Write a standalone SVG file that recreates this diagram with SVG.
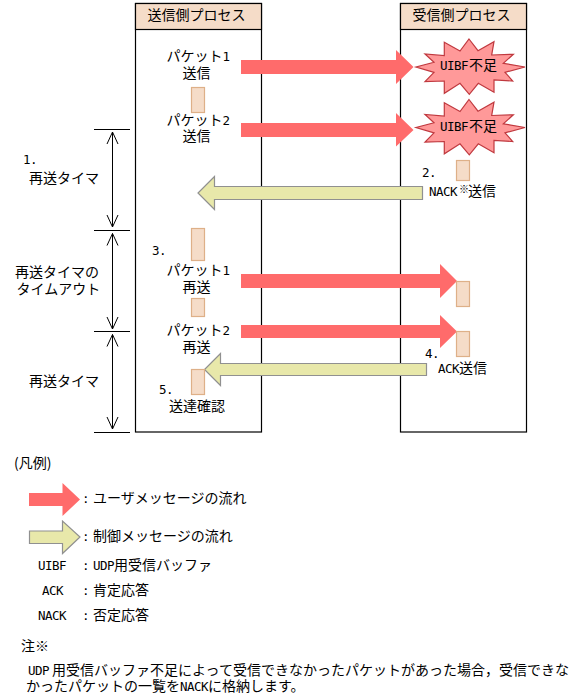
<svg xmlns="http://www.w3.org/2000/svg" width="587" height="700" viewBox="0 0 587 700">
<style>
text{font-family:"Noto Sans CJK JP","Noto Sans CJK SC",sans-serif;font-size:14px;fill:#000}
.l{font-family:"DejaVu Sans Mono","Liberation Mono",monospace;font-size:12.5px}
.box{fill:#fff;stroke:#000;stroke-width:1.2}
.hd{fill:#f5dcc8;stroke:#000;stroke-width:1.2}
.pk{fill:#f5dcc8;stroke:#deb088;stroke-width:1.2}
.red{fill:#ff6b6b}
.yel{fill:#e8e8aa;stroke:#909090;stroke-width:1.2}
.star{fill:#ff9999;stroke:#c0393f;stroke-width:1.2}
.tl{stroke:#000;stroke-width:1;fill:none}
.sup{font-size:10px}
</style>
<defs>
<marker id="open" viewBox="-7 -7 14 14" refX="0" refY="0" markerWidth="14" markerHeight="14" markerUnits="userSpaceOnUse" orient="auto-start-reverse" overflow="visible"><path d="M-12 -5.5L0 0L-12 5.5" fill="none" stroke="#000" stroke-width="1"/></marker>
<polygon id="burst" points="469,39 478,50.7 494,41.7 491.7,55 513.3,54.3 503.3,63.3 525,67 505,72.3 512.7,81 494,80 494,92.3 478.3,83.3 469.3,94.3 460,83.3 444.3,93.3 444.3,81 425,81.7 434,72.3 416,67 434,62.3 425,54 444.3,55.7 444.3,42.3 460,51"/>
</defs>
<g id="sender">
<rect class="box" x="135.5" y="3.5" width="126" height="428.5"/>
<rect class="hd" x="135.5" y="3.5" width="126" height="26"/>
<text x="147.5" y="20">送信側プロセス</text>
</g>
<g id="receiver">
<rect class="box" x="400.5" y="3.5" width="126" height="428.5"/>
<rect class="hd" x="400.5" y="3.5" width="126" height="26"/>
<text x="412.5" y="20">受信側プロセス</text>
</g>
<g id="burst1">
<use href="#burst" class="star"/>
<text x="440 447 454 461 469 483" y="69.5"><tspan class="l">UIBF</tspan>不足</text>
</g>
<g id="burst2">
<use href="#burst" class="star" y="60.5"/>
<text x="440 447 454 461 469 483" y="130.5"><tspan class="l">UIBF</tspan>不足</text>
</g>
<g id="connectors">
<polygon class="red" points="241,60 396,60 396,50 413.5,67 396,84 396,74 241,74"/>
<polygon class="red" points="241,123 396,123 396,113 413.5,130 396,146.5 396,137 241,137"/>
<polygon class="yel" points="422.5,186.5 214.5,186.5 214.5,176.5 198,193 214.5,209.5 214.5,199.5 422.5,199.5"/>
<polygon class="red" points="241,274 440,274 440,264 457,281 440,298 440,288 241,288"/>
<polygon class="red" points="241,325 440,325 440,315 457,331.5 440,348 440,338 241,338"/>
<polygon class="yel" points="426.5,363.5 220.5,363.5 220.5,353.5 204.5,369.5 220.5,385.5 220.5,375.5 426.5,375.5"/>
<path class="tl" d="M94 129.5H130M94 230.5H130M94 331.5H130M94 432.5H130"/>
<path class="tl" d="M112.5 132V227" marker-start="url(#open)" marker-end="url(#open)"/>
<path class="tl" d="M112.5 233.5V329" marker-start="url(#open)" marker-end="url(#open)"/>
<path class="tl" d="M112.5 334.5V429" marker-start="url(#open)" marker-end="url(#open)"/>
</g>
<g id="packet-s1"><rect class="pk" x="191.5" y="87.5" width="13" height="25"/></g>
<g id="packet-r1"><rect class="pk" x="456.5" y="160.5" width="13" height="20"/></g>
<g id="packet-s2"><rect class="pk" x="191.5" y="228.5" width="13" height="32"/></g>
<g id="packet-s3"><rect class="pk" x="191.5" y="298.5" width="13" height="18"/></g>
<g id="packet-s4"><rect class="pk" x="191.5" y="369.5" width="13" height="25"/></g>
<g id="packet-r2"><rect class="pk" x="456.5" y="281.5" width="13" height="25"/></g>
<g id="packet-r3"><rect class="pk" x="456.5" y="331.5" width="13" height="25"/></g>
<g id="labels">
<text x="166.5" y="60.5">パケット<tspan class="l">1</tspan></text>
<text x="182.5" y="78">送信</text>
<text x="166.5" y="124.5">パケット<tspan class="l">2</tspan></text>
<text x="182.5" y="141">送信</text>
<text x="23 30" y="164"><tspan class="l">1.</tspan></text>
<text x="29" y="183">再送タイマ</text>
<text x="422 429" y="177"><tspan class="l">2.</tspan></text>
<text x="429 436 443 450 459 468 482" y="196"><tspan class="l">NACK</tspan><tspan class="sup" dy="-3">※</tspan><tspan dy="3">送信</tspan></text>
<text x="152 159" y="254.5"><tspan class="l">3.</tspan></text>
<text x="166.5" y="275">パケット<tspan class="l">1</tspan></text>
<text x="182.5" y="292">再送</text>
<text x="15" y="277">再送タイマの</text>
<text x="16.5" y="294">タイムアウト</text>
<text x="166.5" y="335">パケット<tspan class="l">2</tspan></text>
<text x="182.5" y="352">再送</text>
<text x="29" y="386">再送タイマ</text>
<text x="159 166" y="393.5"><tspan class="l">5.</tspan></text>
<text x="169" y="411">送達確認</text>
<text x="425 432" y="357.5"><tspan class="l">4.</tspan></text>
<text x="438 445 452 459 473" y="373"><tspan class="l">ACK</tspan>送信</text>
</g>
<g id="legend">
<text x="14" y="468">(凡例)</text>
<polygon class="red" points="29,493 62.5,493 62.5,483 80,499.5 62.5,516 62.5,506 29,506"/>
<polygon class="yel" points="29.5,531 62.5,531 62.5,521 80,537 62.5,553.5 62.5,543.5 29.5,543.5"/>
<text x="82 93" y="502.5"><tspan class="l">:</tspan>ユーザメッセージの流れ</text>
<text x="82 93" y="540.5"><tspan class="l">:</tspan>制御メッセージの流れ</text>
<text x="38 45 52 59" y="570"><tspan class="l">UIBF</tspan></text>
<text x="82 93 100 107 114" y="570"><tspan class="l">:UDP</tspan>用受信バッファ</text>
<text x="42 49 56" y="595"><tspan class="l">ACK</tspan></text>
<text x="82 93" y="595"><tspan class="l">:</tspan>肯定応答</text>
<text x="38 45 52 59" y="620"><tspan class="l">NACK</tspan></text>
<text x="82 93" y="620"><tspan class="l">:</tspan>否定応答</text>
<text x="21" y="651">注※</text>
<text x="28 35 42 52" y="675"><tspan class="l">UDP</tspan>用受信バッファ不足によって受信できなかったパケットがあった場合&#xFF0C;受信できな</text>
<text x="26" y="691">かったパケットの一覧を<tspan class="l" x="180 187 194 201">NACK</tspan><tspan x="208">に格納します。</tspan></text>
</g>
</svg>
